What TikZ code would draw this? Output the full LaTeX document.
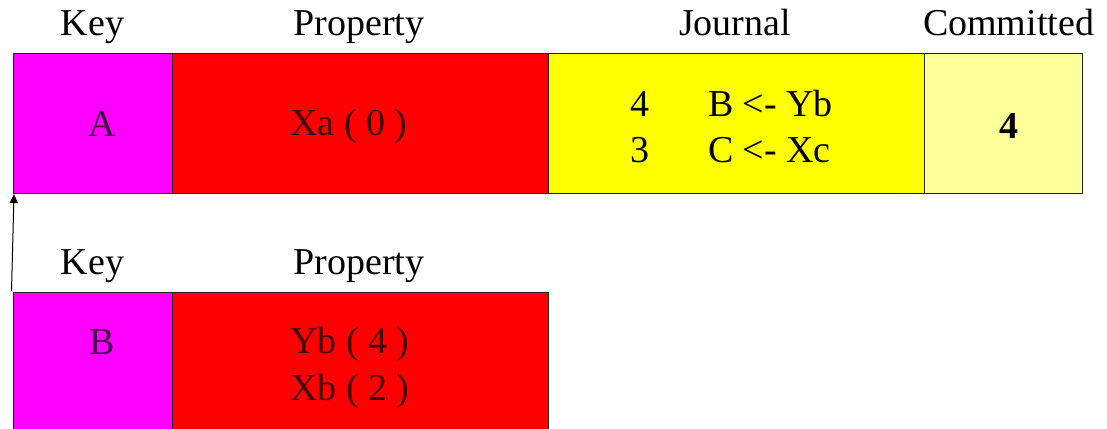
\documentclass[tikz,border=0pt]{standalone}
\usepackage{fontspec}
\setmainfont{Liberation Serif}
\usetikzlibrary{arrows.meta}
\definecolor{keymag}{HTML}{FF00FF}
\definecolor{propred}{HTML}{FF0000}
\definecolor{jouryel}{HTML}{FFFF00}
\definecolor{comyel}{HTML}{FFFF99}
\definecolor{ontxtmag}{HTML}{3A0040}
\definecolor{ontxtred}{HTML}{400000}
\definecolor{edge}{HTML}{222222}
\tikzset{
  cell/.style={draw=edge, line width=1pt, anchor=north west, inner sep=0pt, outer sep=0pt},
  txt/.style={font=\fontsize{38}{46}\selectfont, inner sep=0pt, outer sep=0pt},
  hdr/.style={txt, anchor=base, text=black},
}
\begin{document}
\begin{tikzpicture}[x=1pt,y=-1pt]
\useasboundingbox (0,0) rectangle (1107,428);
% top row boxes
\node[cell, fill=keymag, minimum width=159pt, minimum height=139pt] (keyA) at (13,54) {};
\node[cell, fill=propred, minimum width=376pt, minimum height=139pt] (propA) at (172,54) {};
\node[cell, fill=jouryel, minimum width=376pt, minimum height=139pt] (jour) at (548,54) {};
\node[cell, fill=comyel, minimum width=158pt, minimum height=139pt] (comm) at (924,54) {};
% bottom row boxes
\node[cell, fill=keymag, minimum width=159pt, minimum height=160pt] (keyB) at (13,292) {};
\node[cell, fill=propred, minimum width=376pt, minimum height=160pt] (propB) at (172,292) {};
% headers
\node[hdr] (hKeyA) at (92.5,36) {Key};
\node[hdr] (hPropA) at (359,36) {Property};
\node[hdr] (hJour) at (735,36) {Journal};
\node[txt, anchor=base west] (hComm) at (923,36) {Committed};
\node[hdr] (hKeyB) at (92.5,274) {Key};
\node[hdr] (hPropB) at (359,274) {Property};
% top row texts
\node[txt, anchor=base, text=ontxtmag] (tA) at (102,136) {A};
\node[txt, anchor=base, text=ontxtred] (tXa) at (349,135) {Xa ( 0 )};
\node[txt, anchor=base west] (j1n) at (630,116) {4};
\node[txt, anchor=base west] (j1t) at (708,116) {B <- Yb};
\node[txt, anchor=base west] (j2n) at (630,162) {3};
\node[txt, anchor=base west] (j2t) at (708,162) {C <- Xc};
\node[txt, anchor=base, font=\fontsize{38}{46}\selectfont\bfseries] (tC) at (1008.5,138) {4};
% bottom row texts
\node[txt, anchor=base, text=ontxtmag] (tB) at (102,354) {B};
\node[txt, anchor=base, text=ontxtred] (tYb) at (350,353) {Yb ( 4 )};
\node[txt, anchor=base, text=ontxtred] (tXb) at (350,400) {Xb ( 2 )};
% pointer
\coordinate (ptrStart) at (11.5,291);
\coordinate (ptrEnd) at (14,194);
\draw[line width=1pt, -{Triangle[length=9pt,width=8pt]}] (ptrStart) -- (ptrEnd);
\end{tikzpicture}
\end{document}
